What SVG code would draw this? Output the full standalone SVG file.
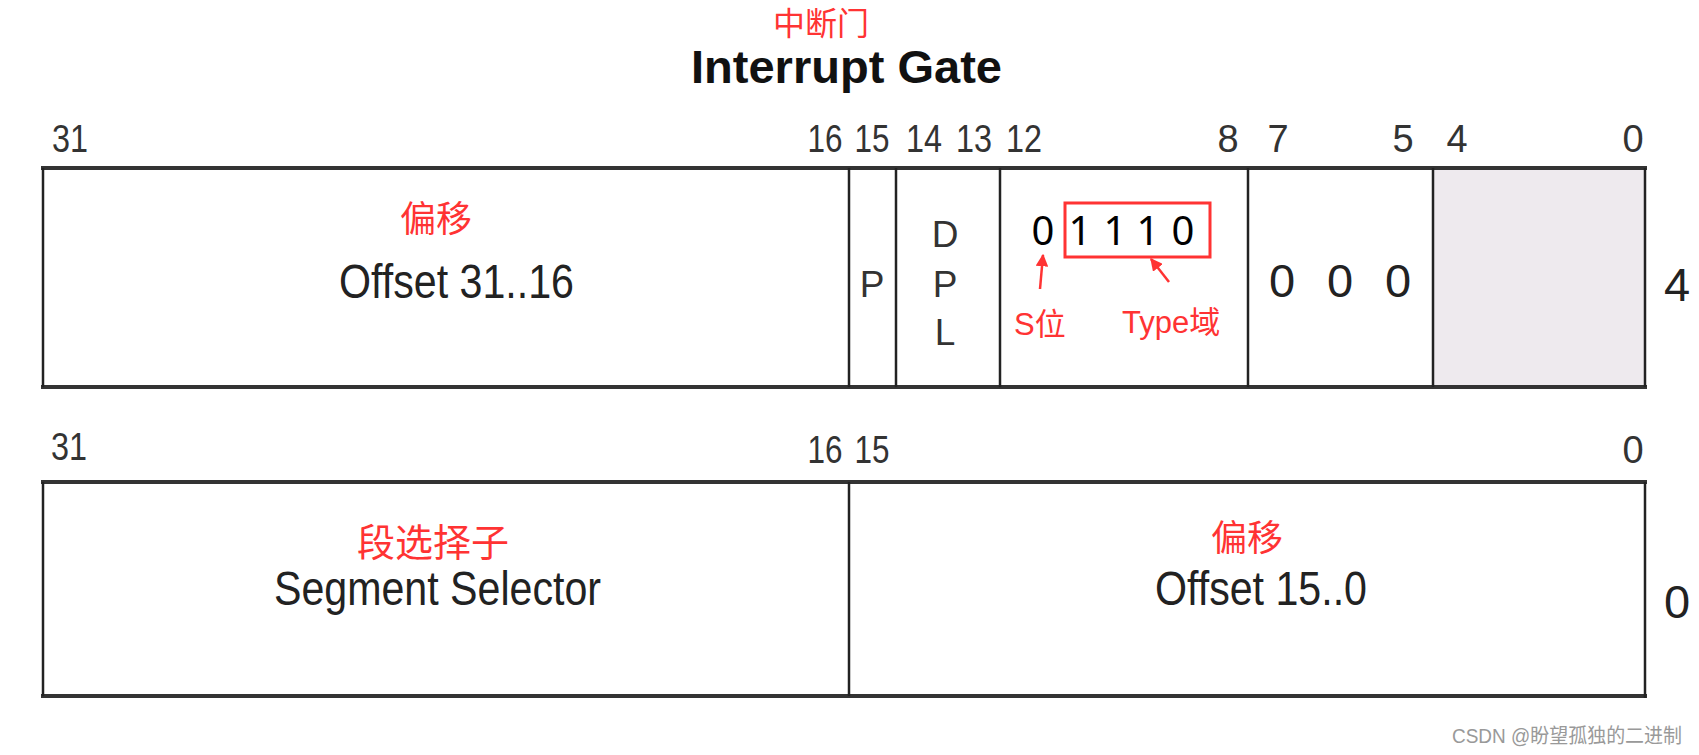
<svg xmlns="http://www.w3.org/2000/svg" width="1699" height="755" viewBox="0 0 1699 755">
<defs>
<marker id="ah" viewBox="0 0 10 10" refX="9" refY="5" markerWidth="5" markerHeight="5" orient="auto" markerUnits="strokeWidth">
<path d="M0,0 L10,5 L0,10 z" fill="#f33"/>
</marker>
<style>
.bit{font-family:"Liberation Sans",Arial,sans-serif;font-size:38px;fill:#333;text-anchor:middle}
.lbl{font-family:"Liberation Sans",Arial,sans-serif;font-size:48px;fill:#222}
.big{font-family:"Liberation Sans",Arial,sans-serif;font-size:47px;fill:#222;text-anchor:middle}
.cell{font-family:"Liberation Sans",Arial,sans-serif;font-size:37px;fill:#333;text-anchor:middle}
.cn{font-family:"Noto Sans CJK SC",sans-serif;fill:#f33;text-anchor:middle}
.red{font-family:"Liberation Sans","Noto Sans CJK SC",sans-serif;font-size:31px;fill:#f33}
.bin{font-family:"Noto Sans",sans-serif;font-size:40px;fill:#000;text-anchor:middle}
.hl{stroke:#333;stroke-width:4;fill:none}
.vl{stroke:#222;stroke-width:2.5;fill:none}
.arrow{stroke:#f33;stroke-width:2.5;fill:none;marker-end:url(#ah)}
</style>
</defs>
<rect width="1699" height="755" fill="#fff"/>

<g id="title">
<text class="cn" x="821" y="35" font-size="32">中断门</text>
<text x="691" y="83" font-family="Liberation Sans,Arial,sans-serif" font-weight="bold" font-size="47" fill="#111" textLength="311" lengthAdjust="spacingAndGlyphs">Interrupt Gate</text>
</g>

<g id="bits-high">
<text class="bit" x="70" y="152" textLength="36" lengthAdjust="spacingAndGlyphs">31</text>
<text class="bit" x="825" y="152" textLength="35" lengthAdjust="spacingAndGlyphs">16</text>
<text class="bit" x="872" y="152" textLength="35" lengthAdjust="spacingAndGlyphs">15</text>
<text class="bit" x="924" y="152" textLength="36" lengthAdjust="spacingAndGlyphs">14</text>
<text class="bit" x="974" y="152" textLength="36" lengthAdjust="spacingAndGlyphs">13</text>
<text class="bit" x="1024" y="152" textLength="36" lengthAdjust="spacingAndGlyphs">12</text>
<text class="bit" x="1228" y="152">8</text>
<text class="bit" x="1278" y="152">7</text>
<text class="bit" x="1403" y="152">5</text>
<text class="bit" x="1457" y="152">4</text>
<text class="bit" x="1633" y="152">0</text>
</g>

<g id="word-high">
<rect x="1433" y="168" width="212" height="219" fill="#eeeaee"/>
<line class="hl" x1="41" y1="168" x2="1647" y2="168"/>
<line class="hl" x1="41" y1="387" x2="1647" y2="387"/>
<line class="vl" x1="43" y1="168" x2="43" y2="387"/>
<line class="vl" x1="849" y1="168" x2="849" y2="387"/>
<line class="vl" x1="896" y1="168" x2="896" y2="387"/>
<line class="vl" x1="1000" y1="168" x2="1000" y2="387"/>
<line class="vl" x1="1248" y1="168" x2="1248" y2="387"/>
<line class="vl" x1="1433" y1="168" x2="1433" y2="387"/>
<line class="vl" x1="1645" y1="168" x2="1645" y2="387"/>
</g>

<g id="offset-high">
<text class="cn" x="436" y="232" font-size="36">偏移</text>
<text class="lbl" x="339" y="298" textLength="235" lengthAdjust="spacingAndGlyphs">Offset 31..16</text>
</g>

<g id="p-bit">
<text class="cell" x="872" y="297">P</text>
</g>

<g id="dpl">
<text class="cell" x="945" y="247">D</text>
<text class="cell" x="945" y="297">P</text>
<text class="cell" x="945" y="345" fill="#111">L</text>
</g>

<g id="type-field">
<text class="bin" x="1043" y="245">0</text>
<text class="bin" x="1080" y="245">1</text>
<text class="bin" x="1115" y="245">1</text>
<text class="bin" x="1148" y="245">1</text>
<text class="bin" x="1183" y="245">0</text>
<rect x="1065" y="203" width="145" height="54" fill="none" stroke="#f33" stroke-width="3"/>
<text class="red" x="1014" y="335">S位</text>
<text class="red" x="1122" y="333">Type域</text>
</g>

<g id="zeros">
<text class="big" x="1282" y="297">0</text>
<text class="big" x="1340" y="297">0</text>
<text class="big" x="1398" y="297">0</text>
</g>

<g id="row-label-4">
<text class="big" x="1677" y="301">4</text>
</g>

<g id="connectors">
<line class="arrow" x1="1040" y1="289" x2="1043" y2="255"/>
<line class="arrow" x1="1169" y1="282" x2="1151" y2="259"/>
</g>

<g id="bits-low">
<text class="bit" x="69" y="460" textLength="36" lengthAdjust="spacingAndGlyphs">31</text>
<text class="bit" x="825" y="463" textLength="35" lengthAdjust="spacingAndGlyphs">16</text>
<text class="bit" x="872" y="463" textLength="35" lengthAdjust="spacingAndGlyphs">15</text>
<text class="bit" x="1633" y="463">0</text>
</g>

<g id="word-low">
<line class="hl" x1="41" y1="482" x2="1647" y2="482"/>
<line class="hl" x1="41" y1="696" x2="1647" y2="696"/>
<line class="vl" x1="43" y1="482" x2="43" y2="696"/>
<line class="vl" x1="849" y1="482" x2="849" y2="696"/>
<line class="vl" x1="1645" y1="482" x2="1645" y2="698"/>
</g>

<g id="selector">
<text class="cn" x="433" y="556" font-size="38">段选择子</text>
<text class="lbl" x="274" y="605" textLength="327" lengthAdjust="spacingAndGlyphs">Segment Selector</text>
</g>

<g id="offset-low">
<text class="cn" x="1247" y="551" font-size="36">偏移</text>
<text class="lbl" x="1155" y="605" textLength="212" lengthAdjust="spacingAndGlyphs">Offset 15..0</text>
</g>

<g id="row-label-0">
<text class="big" x="1677" y="618">0</text>
</g>

<g id="watermark">
<text x="1452" y="743" font-family="Liberation Sans,'Noto Sans CJK SC',sans-serif" font-size="20" fill="#999" textLength="230" lengthAdjust="spacingAndGlyphs">CSDN @盼望孤独的二进制</text>
</g>
</svg>
